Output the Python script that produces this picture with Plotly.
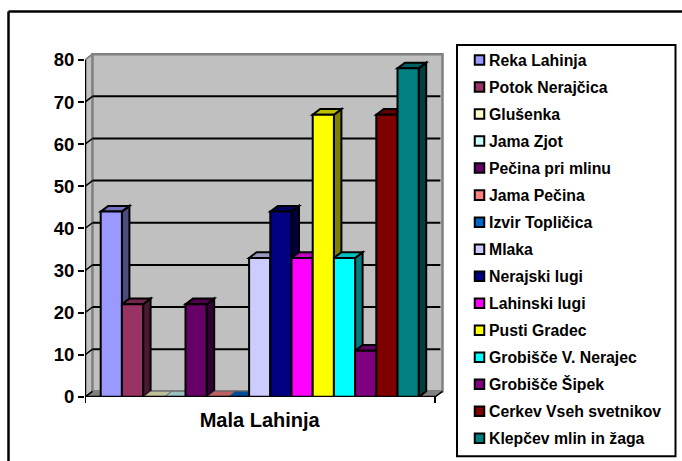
import plotly.graph_objects as go

category = "Mala Lahinja"
series_names = ["Reka Lahinja", "Potok Nerajčica", "Glušenka", "Jama Zjot", "Pečina pri mlinu",
                "Jama Pečina", "Izvir Topličica", "Mlaka", "Nerajski lugi", "Lahinski lugi",
                "Pusti Gradec", "Grobišče V. Nerajec", "Grobišče Šipek", "Cerkev Vseh svetnikov",
                "Klepčev mlin in žaga"]
series_values = [44, 22, 0, 0, 22, 0, 0, 33, 44, 33, 67, 33, 11, 67, 78]
series_colors = ["#9999FF", "#993366", "#FFFFCC", "#CCFFFF", "#660066", "#FF8080", "#0066CC", "#CCCCFF",
                 "#000080", "#FF00FF", "#FFFF00", "#00FFFF", "#800080", "#800000", "#008080"]
y_ticks = [0, 10, 20, 30, 40, 50, 60, 70, 80]

W, H = 682, 461
L, R, T, B = 85, 445, 50, 396.7      # plot area in pixels
BAR_PX = 21.2                        # bar width
Y_PX = 4.21                          # pixels per value unit
FIRST_BAR_LEFT = 100.7
AXIS_END = 435
DX_PX, DY_PX = 7.5, 5.7              # 3-D depth of the chart floor and walls
BDX_PX, BDY_PX = 7.5, 5.7            # 3-D depth of a bar
LEG_SWATCH_X, LEG_TEXT_X, LEG_FIRST_Y, LEG_PITCH, LEG_SWATCH = 479.5, 488, 60, 27, 9.5

x0 = 0.5 - (FIRST_BAR_LEFT - L) / BAR_PX
xr = [x0, x0 + (R - L) / BAR_PX]
yr = [0, (B - T) / Y_PX]
dx, dy = DX_PX / BAR_PX, DY_PX / Y_PX
bdx, bdy = BDX_PX / BAR_PX, BDY_PX / Y_PX
xl = x0
xe = x0 + (AXIS_END - L) / BAR_PX


def px(x):
    return (x - L) / (R - L)


def py(y):
    return (B - y) / (B - T)


def shade(c, f):
    r, g, b = int(c[1:3], 16), int(c[3:5], 16), int(c[5:7], 16)
    return f"rgb({int(r*f)},{int(g*f)},{int(b*f)})"


def poly(pts, fill, line="black", width=1, layer="below"):
    path = "M" + "L".join(f"{a},{b}" for a, b in pts) + "Z"
    return dict(type="path", path=path, xref="x", yref="y", fillcolor=fill, layer=layer,
                line=dict(color=line, width=width))


def seg(a, b, c, d, color="black", width=2, layer="below"):
    return dict(type="line", x0=a, y0=b, x1=c, y1=d, xref="x", yref="y", layer=layer,
                line=dict(color=color, width=width))


def paper_rect(x_a, y_a, x_b, y_b, width, fill="rgba(0,0,0,0)"):
    return dict(type="rect", xref="paper", yref="paper", layer="below",
                x0=px(x_a), x1=px(x_b), y0=py(y_a), y1=py(y_b),
                line=dict(color="black", width=width), fillcolor=fill)


def paper_line(x_a, y_a, x_b, y_b, width):
    s = paper_rect(x_a, y_a, x_b, y_b, width)
    s["type"] = "line"
    s.pop("fillcolor")
    return s


shapes = []
# outer frame: only top and left edges fall inside the picture
shapes.append(paper_line(8.5, 11.5, W, 11.5, 2.5))
shapes.append(paper_line(8.5, 11.5, 8.5, H, 2.5))
# legend box
shapes.append(paper_rect(457, 45, 675.5, 456, 2))

annotations = []
for i, (name, c) in enumerate(zip(series_names, series_colors)):
    cy = LEG_FIRST_Y + i * LEG_PITCH
    shapes.append(paper_rect(LEG_SWATCH_X - LEG_SWATCH / 2, cy - LEG_SWATCH / 2,
                             LEG_SWATCH_X + LEG_SWATCH / 2, cy + LEG_SWATCH / 2, 2, c))
    annotations.append(dict(text=name, xref="paper", yref="paper", x=px(LEG_TEXT_X), y=py(cy),
                            xanchor="left", yanchor="middle", showarrow=False, borderpad=0,
                            font=dict(family="Liberation Sans", size=15.8, weight="bold", color="black")))

ytop = y_ticks[-1]
# left wall, floor, back wall
shapes.append(poly([(xl, 0), (xl + dx, dy), (xl + dx, ytop + dy), (xl, ytop)], "#C0C0C0", "#808080", 1.5))
shapes.append(poly([(xl, 0), (xe, 0), (xe + dx, dy), (xl + dx, dy)], "#808080", "#808080", 1))
shapes.append(poly([(xl + dx, dy), (xe + dx, dy), (xe + dx, ytop + dy), (xl + dx, ytop + dy)],
                   "#C0C0C0", "#808080", 2.5))
# gridlines on back and side wall
for v in y_ticks[1:-1]:
    shapes.append(seg(xl + dx, v + dy, xe + dx - 0.1, v + dy, "black", 2))
for v in y_ticks[:-1]:
    shapes.append(seg(xl, v, xl + dx, v + dy, "black", 1.5))
shapes.append(seg(xl, ytop, xl + dx, ytop + dy, "#808080", 1.5))
shapes.append(seg(xe, 0, xe + dx, dy, "black", 1.5))

# depth faces of the bars (bar fronts are drawn above them by the bar traces)
for i, (v, c) in enumerate(zip(series_values, series_colors)):
    a, b = i + 0.5, i + 1.5
    if v > 0:
        shapes.append(poly([(b, 0), (b + bdx, bdy), (b + bdx, v + bdy), (b, v)], shade(c, 0.5), "black", 2))
        shapes.append(poly([(a, v), (b, v), (b + bdx, v + bdy), (a + bdx, v + bdy)], shade(c, 0.75), "black", 2))
    else:
        shapes.append(poly([(a, v), (b, v), (b + bdx, v + bdy), (a + bdx, v + bdy)], shade(c, 0.75), "#606060", 0.7))

# axis lines on top
shapes.append(seg(xl, 0, xl, ytop, "black", 2.5, "above"))
shapes.append(seg(xl, 0, xe, 0, "black", 2.5, "above"))
shapes.append(dict(type="line", xref="x", yref="paper", layer="above", x0=xl, x1=xl, y0=0, y1=-6 / (B - T),
                   line=dict(color="black", width=2)))
shapes.append(dict(type="line", xref="x", yref="paper", layer="above", x0=xe, x1=xe, y0=0, y1=-6 / (B - T),
                   line=dict(color="black", width=2)))

fig = go.Figure()
for i, (name, v, c) in enumerate(zip(series_names, series_values, series_colors)):
    fig.add_bar(x=[i + 1], y=[v], width=1, name=name,
                marker=dict(color=c, line=dict(color="black", width=2)), cliponaxis=False)

fig.update_layout(
    width=W, height=H, autosize=False, barmode="overlay",
    margin=dict(l=L, r=W - R, t=T, b=H - B, pad=0, autoexpand=False),
    paper_bgcolor="white", plot_bgcolor="white",
    font=dict(family="Liberation Sans", color="black"),
    shapes=shapes,
    annotations=annotations,
    showlegend=False,
    hovermode=False,
    xaxis=dict(range=xr, tickmode="array", tickvals=[8], ticktext=[category], ticks="outside", ticklen=5,
               tickcolor="rgba(0,0,0,0)", showgrid=False, zeroline=False, showline=False, fixedrange=True,
               tickfont=dict(family="Liberation Sans", size=20, weight="bold", color="black")),
    yaxis=dict(range=yr, tickmode="array", tickvals=y_ticks, ticks="outside", ticklen=6, tickwidth=2,
               tickcolor="black", showgrid=False, zeroline=False, showline=False, fixedrange=True,
               tickfont=dict(family="Liberation Sans", size=18.5, weight="bold", color="black")),
)
fig.write_html("out.html", config=dict(displayModeBar=False),
               post_script="document.body.style.margin='0';document.body.style.overflow='hidden';")
